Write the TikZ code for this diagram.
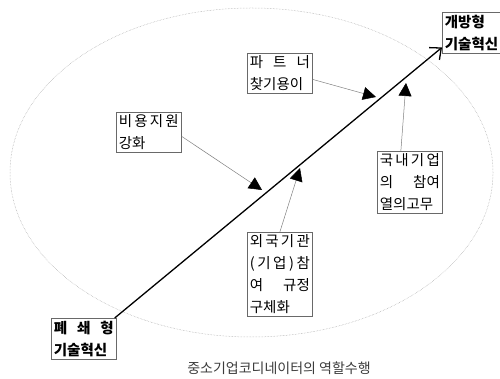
\documentclass[tikz,border=0pt]{standalone}
\usepackage{fontspec}
\setmainfont{Noto Sans CJK KR}
\usetikzlibrary{positioning,arrows.meta}
\definecolor{boxline}{RGB}{105,105,105}
\definecolor{ringline}{RGB}{165,165,165}
\definecolor{captext}{RGB}{60,60,60}

\begin{document}
\begin{tikzpicture}[x=1pt,y=-1pt,
  every node/.style={font=\fontsize{14.5}{22}\selectfont},
  stagebox/.style={rectangle, draw=boxline, line width=0.7pt, inner sep=2.5pt, text width=60pt, align=left, anchor=north west, font=\fontsize{14.5}{22}\selectfont\bfseries},
  factorbox/.style={rectangle, draw=boxline, line width=0.7pt, inner sep=2.5pt, text width=60pt, align=left, anchor=north west},
  growth/.style={-{Straight Barb[length=9pt,width=16pt]}, line width=1.3pt},
  push/.style={-{Triangle[length=13pt,width=13pt,color=black]}, draw=gray, line width=0.5pt}
]
  \useasboundingbox (0,0) rectangle (500,379);

  % outer ring
  \draw[ringline, densely dotted, line width=0.5pt] (251.5,172.5) ellipse [x radius=241.5, y radius=164.5];

  % start and goal
  \node[stagebox] (closed) at (51,318) {폐\hfill 쇄\hfill 형\\ 기술혁신};
  \node[stagebox] (open)   at (442,12) {개방형\\ 기술혁신};

  % supporting factors
  \node[factorbox] (partner)  at (247,53)  {파\hfill 트\hfill 너\\ 찾기용이};
  \node[factorbox] (cost)     at (116,112) {비\hfill 용\hfill 지\hfill 원\\ 강화};
  \node[factorbox] (domestic) at (377,151) {국\hfill 내\hfill 기\hfill 업\\ 의\hfill 참여\\ 열의고무};
  \node[factorbox] (foreign)  at (247,232) {외\hfill 국\hfill 기\hfill 관\\ (\hfill 기\hfill 업\hfill )\hfill 참\\ 여\hfill 규정\\ 구체화};

  \node[text=captext, font=\fontsize{14}{16}\selectfont] (caption) at (279,368) {중소기업코디네이터의 역할수행};

  % main path
  \draw[growth] ([xshift=-2pt]closed.north east) -- ([yshift=6pt]open.south west);

  \coordinate (hitcost)     at (262,190);
  \coordinate (hitpartner)  at (376,97);
  \coordinate (hitdomestic) at (406,83);
  \coordinate (hitforeign)  at (300,168);

  \draw[push] ([yshift=-4pt]cost.east) -- (hitcost);
  \draw[push] ([yshift=-6pt]partner.east) -- (hitpartner);
  \draw[push] ([xshift=-9pt]domestic.north) -- (hitdomestic);
  \draw[push] (foreign.north) -- (hitforeign);
\end{tikzpicture}
\end{document}
